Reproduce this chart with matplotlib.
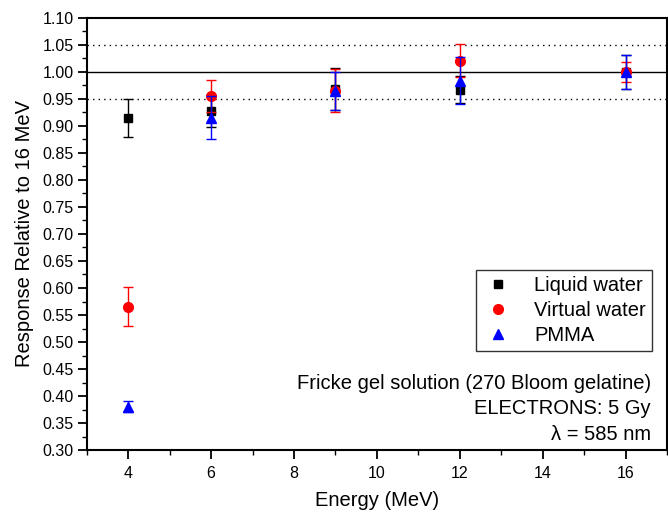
import matplotlib
matplotlib.use("Agg")
import matplotlib.pyplot as plt
from matplotlib.ticker import MultipleLocator

plt.rcParams['font.family'] = ['Liberation Sans', 'DejaVu Sans']

energy = [4, 6, 9, 12, 16]
liquid = [0.914, 0.928, 0.968, 0.967, 1.000]
liquid_err = [0.035, 0.030, 0.039, 0.025, 0.032]
virtual = [0.565, 0.955, 0.965, 1.021, 1.000]
virtual_err = [0.036, 0.030, 0.040, 0.030, 0.019]
pmma = [0.380, 0.915, 0.964, 0.984, 1.000]
pmma_err = [0.010, 0.040, 0.035, 0.043, 0.031]

fig = plt.figure(figsize=(6.68, 5.12), dpi=100)
ax = fig.add_axes([0.130, 0.121, 0.8685, 0.844])

ax.axhline(1.0, color='black', lw=1.0, zorder=1)
ax.axhline(1.05, color='black', lw=1.0, ls=(0, (1, 3)), zorder=1)
ax.axhline(0.95, color='black', lw=1.0, ls=(0, (1, 3)), zorder=1)

ax.errorbar(energy, liquid, yerr=liquid_err, fmt='s', color='black', ms=6,
            capsize=3.5, elinewidth=1, capthick=1, label='Liquid water', zorder=3)
ax.errorbar(energy, virtual, yerr=virtual_err, fmt='o', color='red', ms=7,
            capsize=3.5, elinewidth=1, capthick=1, label='Virtual water', zorder=4)
ax.errorbar(energy, pmma, yerr=pmma_err, fmt='^', color='blue', ms=7,
            capsize=3.5, elinewidth=1, capthick=1, label='PMMA', zorder=5)

ax.set_xlim(3, 17)
ax.set_ylim(0.30, 1.10)
ax.xaxis.set_major_locator(MultipleLocator(2))
ax.xaxis.set_minor_locator(MultipleLocator(1))
ax.yaxis.set_major_locator(MultipleLocator(0.05))
ax.yaxis.set_minor_locator(MultipleLocator(0.025))
ax.yaxis.set_major_formatter(matplotlib.ticker.FormatStrFormatter('%.2f'))
ax.tick_params(which='major', direction='out', length=6.5, width=1.3, labelsize=11.5)
ax.tick_params(which='minor', direction='out', length=3.8, width=1.0)
ax.tick_params(axis='x', pad=5)
ax.tick_params(axis='y', pad=3)
for s in ax.spines.values():
    s.set_linewidth(1.5)

ax.set_xlabel('Energy (MeV)', fontsize=14.5, labelpad=7)
ax.set_ylabel('Response Relative to 16 MeV', fontsize=14.5, labelpad=6)

handles, labels = ax.get_legend_handles_labels()
handles = [h[0] for h in handles]
leg = ax.legend(handles, labels, loc='upper right', bbox_to_anchor=(0.974, 0.416),
                fontsize=14.5, frameon=True, fancybox=False, edgecolor='black',
                handletextpad=1.0, borderpad=0.3, labelspacing=0.28, handlelength=1.6,
                borderaxespad=0)
leg.get_frame().set_linewidth(1.0)

ax.text(0.972, 0.153, 'Fricke gel solution (270 Bloom gelatine)', transform=ax.transAxes,
        ha='right', va='center', fontsize=14.5)
ax.text(0.972, 0.095, 'ELECTRONS: 5 Gy', transform=ax.transAxes,
        ha='right', va='center', fontsize=14.5)
ax.text(0.972, 0.037, 'λ = 585 nm', transform=ax.transAxes,
        ha='right', va='center', fontsize=14.5)

fig.savefig('out.png', dpi=100)
